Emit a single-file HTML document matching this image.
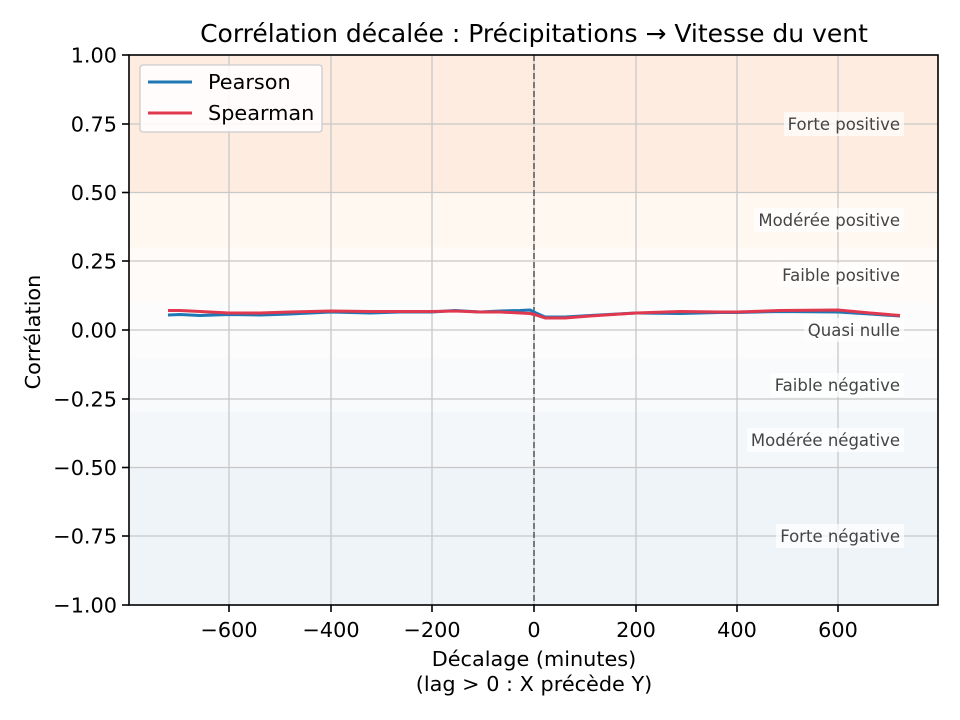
<!DOCTYPE html>
<html><head><meta charset="utf-8"><style>body{margin:0;background:#fff}svg{display:block;font-family:"DejaVu Sans","Liberation Sans",sans-serif}</style></head>
<body>
<svg width="960" height="720" viewBox="0 0 960 720" xmlns="http://www.w3.org/2000/svg">
<rect width="960" height="720" fill="#fff"/>
<rect x="129" y="55" width="809" height="137.5" fill="#feece1"/>
<rect x="129" y="192.5" width="809" height="55" fill="#fef8f0"/>
<rect x="129" y="247.5" width="809" height="55" fill="#fefbf8"/>
<rect x="129" y="302.5" width="809" height="55" fill="#fcfcfc"/>
<rect x="129" y="357.5" width="809" height="55" fill="#f8fafc"/>
<rect x="129" y="412.5" width="809" height="55" fill="#f3f7fa"/>
<rect x="129" y="467.5" width="809" height="137.5" fill="#eff4f8"/>
<g stroke="#c8c8c8" stroke-width="1.3">
<line x1="229" y1="55" x2="229" y2="605"/><line x1="331" y1="55" x2="331" y2="605"/><line x1="432" y1="55" x2="432" y2="605"/><line x1="534" y1="55" x2="534" y2="605"/><line x1="636" y1="55" x2="636" y2="605"/><line x1="737" y1="55" x2="737" y2="605"/><line x1="838" y1="55" x2="838" y2="605"/>
<line x1="129" y1="124" x2="938" y2="124"/><line x1="129" y1="192.5" x2="938" y2="192.5"/><line x1="129" y1="261" x2="938" y2="261"/><line x1="129" y1="330" x2="938" y2="330"/><line x1="129" y1="399" x2="938" y2="399"/><line x1="129" y1="467.5" x2="938" y2="467.5"/><line x1="129" y1="536" x2="938" y2="536"/>
</g>
<line x1="534" y1="55" x2="534" y2="605" stroke="#555" stroke-width="1.5" stroke-dasharray="6,3"/>
<g font-size="16.5" fill="#444" text-anchor="end">
<rect x="784" y="112" width="120" height="24" fill="#fff" opacity="0.7"/><text x="900" y="130">Forte positive</text>
<rect x="754" y="208" width="150" height="24" fill="#fff" opacity="0.7"/><text x="900" y="226">Modérée positive</text>
<rect x="778" y="263" width="126" height="24" fill="#fff" opacity="0.7"/><text x="900" y="281">Faible positive</text>
<rect x="804" y="318" width="100" height="24" fill="#fff" opacity="0.7"/><text x="900" y="336">Quasi nulle</text>
<rect x="771" y="373" width="133" height="24" fill="#fff" opacity="0.7"/><text x="900" y="391">Faible négative</text>
<rect x="747" y="428" width="157" height="24" fill="#fff" opacity="0.7"/><text x="900" y="446">Modérée négative</text>
<rect x="776" y="524" width="128" height="24" fill="#fff" opacity="0.7"/><text x="900" y="542">Forte négative</text>
</g>
<polyline fill="none" stroke="#1f77b4" stroke-width="3" stroke-linejoin="round" points="168,315 180,314.5 200,315.5 229,314.5 260,315 290,314 331,312 370,313 400,312 432,312 455,310.5 480,312 500,311 520,310.5 530,310 536,313 545,317 565,317 590,315.5 636,313 680,313.5 720,312.5 737,312.5 780,311.5 838,312 870,314 900,316"/>
<polyline fill="none" stroke="#e0384f" stroke-width="3" stroke-linejoin="round" points="168,310.5 180,310.5 200,311.5 229,313 260,313 290,312 331,311 370,311.5 400,311.5 432,311.5 455,311 480,312 500,312 520,313 530,313.5 536,315 545,318 565,318 590,316 636,313 680,311.5 720,312 737,312 780,310.5 838,310 870,313 900,315.5"/>
<rect x="129" y="55" width="809" height="550" fill="none" stroke="#000" stroke-width="1.6"/>
<g stroke="#000" stroke-width="1.6">
<line x1="229" y1="605" x2="229" y2="612"/><line x1="331" y1="605" x2="331" y2="612"/><line x1="432" y1="605" x2="432" y2="612"/><line x1="534" y1="605" x2="534" y2="612"/><line x1="636" y1="605" x2="636" y2="612"/><line x1="737" y1="605" x2="737" y2="612"/><line x1="838" y1="605" x2="838" y2="612"/>
<line x1="122" y1="55" x2="129" y2="55"/><line x1="122" y1="124" x2="129" y2="124"/><line x1="122" y1="192.5" x2="129" y2="192.5"/><line x1="122" y1="261" x2="129" y2="261"/><line x1="122" y1="330" x2="129" y2="330"/><line x1="122" y1="399" x2="129" y2="399"/><line x1="122" y1="467.5" x2="129" y2="467.5"/><line x1="122" y1="536" x2="129" y2="536"/><line x1="122" y1="605" x2="129" y2="605"/>
</g>
<g font-size="20.8" fill="#000" text-anchor="middle">
<text x="229" y="637">−600</text><text x="331" y="637">−400</text><text x="432" y="637">−200</text><text x="534" y="637">0</text><text x="636" y="637">200</text><text x="737" y="637">400</text><text x="838" y="637">600</text>
</g>
<g font-size="20.8" fill="#000" text-anchor="end">
<text x="117" y="62.5">1.00</text><text x="117" y="131.5">0.75</text><text x="117" y="200">0.50</text><text x="117" y="268.5">0.25</text><text x="117" y="337.5">0.00</text><text x="117" y="406.5">−0.25</text><text x="117" y="475">−0.50</text><text x="117" y="543.5">−0.75</text><text x="117" y="612.5">−1.00</text>
</g>
<text x="534" y="666" font-size="20.8" text-anchor="middle">Décalage (minutes)</text>
<text x="534" y="691" font-size="20.8" text-anchor="middle">(lag &gt; 0 : X précède Y)</text>
<text x="40" y="332" font-size="20.8" text-anchor="middle" transform="rotate(-90 40 332)">Corrélation</text>
<text x="534" y="42" font-size="25" text-anchor="middle">Corrélation décalée : Précipitations → Vitesse du vent</text>
<rect x="140" y="65" width="182" height="67" rx="3" fill="#fff" fill-opacity="0.85" stroke="#ccc" stroke-width="1.3"/>
<line x1="148" y1="82" x2="192" y2="82" stroke="#1f77b4" stroke-width="3"/>
<text x="208" y="89" font-size="20.8">Pearson</text>
<line x1="148" y1="113" x2="192" y2="113" stroke="#e0384f" stroke-width="3"/>
<text x="208" y="120" font-size="20.8">Spearman</text>
</svg>
</body></html>
